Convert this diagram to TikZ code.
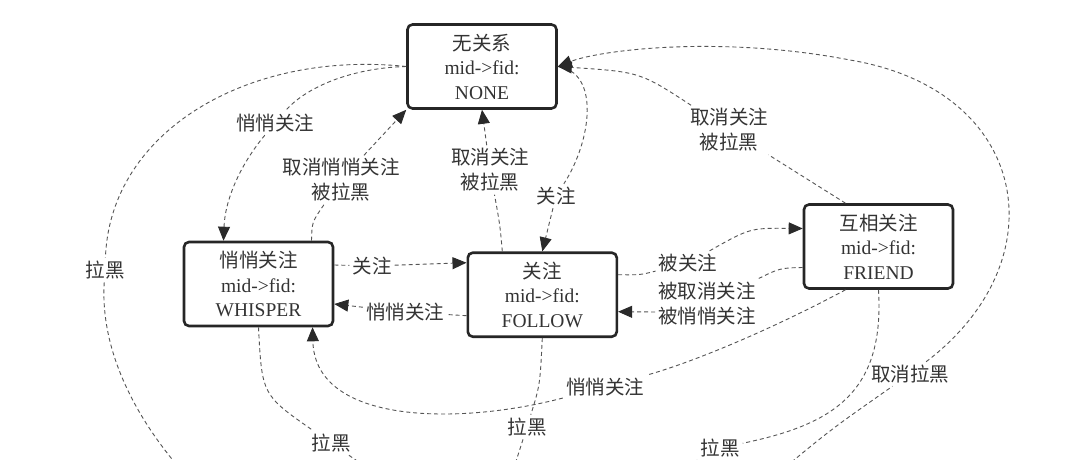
\documentclass[tikz,border=0pt]{standalone}
\usepackage{fontspec}
\setmainfont{Liberation Serif}
\newfontfamily\cjk{Noto Sans CJK SC}
\usetikzlibrary{arrows.meta}
\definecolor{boxc}{HTML}{262626}
\definecolor{linec}{HTML}{555555}
\definecolor{tipc}{HTML}{2A2A2A}
\definecolor{txt}{HTML}{333333}
\newcommand\zh[1]{{\cjk #1}}
\begin{document}
\begin{tikzpicture}[x=1pt,y=-1pt,
  state/.style={draw=boxc, line width=2.6pt, rounded corners=5pt, minimum width=149pt, minimum height=84pt, inner sep=0pt, align=center, text=txt, font=\fontsize{19.5}{24.5}\selectfont},
  lab/.style={align=center, inner sep=3pt, text=txt, font=\fontsize{19.5}{25}\selectfont\cjk},
  edge/.style={draw=linec, line width=0.9pt, dash pattern=on 4pt off 3pt},
  arr/.style={edge, -{Triangle[length=14pt,width=12pt,color=tipc]}}
]
\useasboundingbox (0,0) rectangle (1080,460);
\fill[white] (0,0) rectangle (1080,460);
\clip (0,0) rectangle (1080,460);

% states
\node[state] (none) at (482,66.5) {\zh{无关系}\\mid->fid:\\NONE};
\node[state] (whisper) at (258.5,284) {\zh{悄悄关注}\\mid->fid:\\WHISPER};
\node[state] (follow) at (542.3,294.7) {\zh{关注}\\mid->fid:\\FOLLOW};
\node[state] (friend) at (878.5,246.5) {\zh{互相关注}\\mid->fid:\\FRIEND};

% labels
\node[lab] (l1) at (275,123) {悄悄关注};
\node[lab] (l2) at (341,180) {取消悄悄关注\\被拉黑};
\node[lab] (l3) at (490,170) {取消关注\\被拉黑};
\node[lab] (l4) at (556,196) {关注};
\node[lab] (l5) at (729,130) {取消关注\\被拉黑};
\node[lab] (l6) at (105,270) {拉黑};
\node[lab] (l7) at (372,266) {关注};
\node[lab] (l8) at (405,312) {悄悄关注};
\node[lab] (l9) at (688,263) {被关注};
\node[lab] (l10) at (707,304) {被取消关注\\被悄悄关注};
\node[lab] (l11) at (605,387) {悄悄关注};
\node[lab] (l12) at (331,443) {拉黑};
\node[lab] (l13) at (527,427) {拉黑};
\node[lab] (l14) at (720,448) {拉黑};
\node[lab] (l15) at (910,374) {取消拉黑};

% off-picture ends (towards the blacklist state below)
\coordinate (b1) at (190,480);
\coordinate (b2) at (385,480);
\coordinate (b3) at (510,480);
\coordinate (b4) at (660,480);
\coordinate (b5) at (770,480);

% NONE -> WHISPER
\draw[edge] (none.west) .. controls (350,68) and (305,88) .. (l1);
\draw[arr] (l1) .. controls (240,165) and (225,200) .. ([xshift=-35pt]whisper.north);
% NONE -> black (left arc)
\draw[edge] (none.west) .. controls (250,50) and (110,130) .. (l6);
\draw[edge] (l6) .. controls (100,350) and (135,420) .. (b1);
% WHISPER -> NONE
\draw[edge] ([xshift=53pt]whisper.north) .. controls (312,222) .. (l2);
\draw[arr] (l2) -- (none.south west);
% FOLLOW -> NONE
\draw[edge] ([xshift=-40pt]follow.north) .. controls (500,225) .. (l3);
\draw[arr] (l3) -- (none.south);
% NONE -> FOLLOW
\draw[edge] (none.east) .. controls (600,72) and (592,140) .. (l4);
\draw[arr] (l4) -- (follow.north);
% FRIEND -> NONE
\draw[edge] ([xshift=-33pt]friend.north) -- (l5);
\draw[arr] (l5) .. controls (640,72) .. (none.east);
% black -> NONE (right arc)
\draw[edge] (b5) .. controls (830,430) .. (l15);
\draw[arr] (l15) .. controls (1060,260) and (1030,90) .. (850,60) .. controls (720,35) and (600,50) .. (none.east);
% WHISPER -> FOLLOW
\draw[edge] ([yshift=19pt]whisper.east) -- (l7);
\draw[arr] (l7) -- ([yshift=32pt]follow.west);
% FOLLOW -> WHISPER
\draw[edge] ([yshift=-21pt]follow.west) -- (l8);
\draw[arr] (l8) -- ([yshift=-20pt]whisper.east);
% FOLLOW -> FRIEND
\draw[edge] ([yshift=20pt]follow.east) .. controls (640,275) .. (l9);
\draw[arr] (l9) .. controls (750,228) .. ([yshift=18pt]friend.west);
% FRIEND -> FOLLOW
\draw[edge] ([yshift=-21pt]friend.west) .. controls (780,268) .. (l10);
\draw[arr] ([yshift=-8pt]l10.west) -- ([yshift=-17pt]follow.east);
% FRIEND -> WHISPER
\draw[edge] ([xshift=-33pt]friend.south) .. controls (780,325) and (700,360) .. (l11);
\draw[arr] (l11) .. controls (460,425) and (315,425) .. ([xshift=54pt]whisper.south);
% -> black
\draw[edge] (whisper.south) .. controls (262,395) .. (l12);
\draw[edge] (l12) -- (b2);
\draw[edge] (follow.south) .. controls (540,385) .. (l13);
\draw[edge] (l13) -- (b3);
\draw[edge] (friend.south) .. controls (885,395) and (830,425) .. (l14);
\draw[edge] (l14) -- (b4);
\end{tikzpicture}
\end{document}
